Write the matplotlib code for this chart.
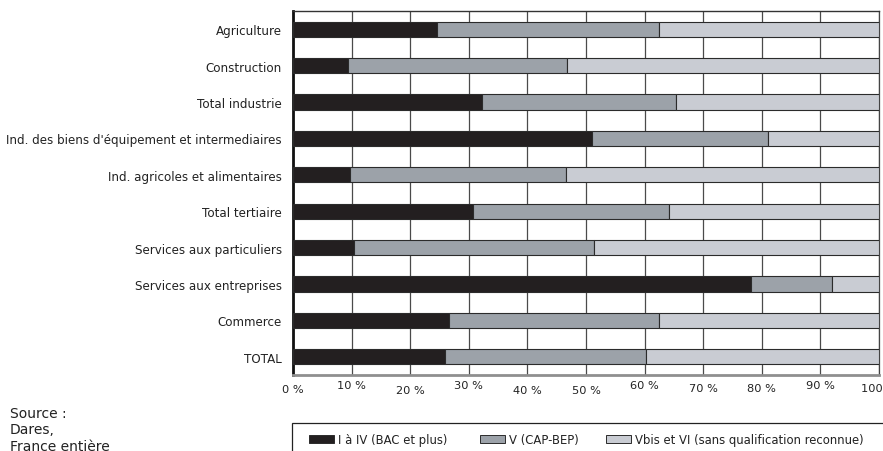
import matplotlib.pyplot as plt
from matplotlib.patches import Rectangle

categories = [
    'Agriculture',
    'Construction',
    'Total industrie',
    "Ind. des biens d'équipement et intermediaires",
    'Ind. agricoles et alimentaires',
    'Total tertiaire',
    'Services aux particuliers',
    'Services aux entreprises',
    'Commerce',
    'TOTAL',
]
# shares in %
bac_plus = [24.5, 9.4, 32.2, 51.0, 9.7, 30.7, 10.4, 78.2, 26.7, 25.9]
cap_bep = [37.9, 37.3, 33.1, 30.0, 36.9, 33.5, 41.0, 13.7, 35.7, 34.3]
sans_qualif = [100 - a - b for a, b in zip(bac_plus, cap_bep)]

series_names = ['I à IV (BAC et plus)', 'V (CAP-BEP)',
                'Vbis et VI (sans qualification reconnue)']
colors = ['#231f20', '#9ca2a9', '#c9ccd3']

xticks = list(range(0, 101, 10))
xtick_labels = [f'{t} %' for t in xticks]
# the labels in the scan sit at uneven heights (pixels below the axis)
xtick_drop = [9, 5, 10, 5, 10, 10, 5, 8, 8, 5, 8]

source_lines = ['Source :', 'Dares,', 'France entière']

fig = plt.figure(figsize=(8.83, 4.52), dpi=100)
ax = fig.add_axes([293 / 883, 1 - 376 / 452, 586 / 883, 364 / 452])

ypos = list(range(len(categories)))
left = [0] * len(categories)
for vals, col, name in zip([bac_plus, cap_bep, sans_qualif], colors, series_names):
    ax.barh(ypos, vals, left=left, height=0.42, color=col,
            edgecolor='#2b2b2b', linewidth=0.8, label=name, zorder=3)
    left = [l + v for l, v in zip(left, vals)]

ax.set_xlim(0, 100)
ax.set_ylim(len(categories) - 0.5, -0.5)
ax.set_yticks(ypos)
ax.set_yticklabels(categories, fontsize=8.55, color='#222222')
ax.tick_params(axis='y', length=0, pad=8)
ax.set_xticks(xticks)
ax.set_xticklabels([])
ax.tick_params(axis='x', length=0)
ax.grid(axis='x', color='#4a4a4a', linewidth=0.9, zorder=0)

for t, lab, d in zip(xticks, xtick_labels, xtick_drop):
    ax.annotate(lab, xy=(t, 0), xycoords=('data', 'axes fraction'),
                xytext=(0, -d), textcoords='offset pixels',
                ha='center', va='top', fontsize=8.2,
                color='#222222', annotation_clip=False)

ax.spines['left'].set_linewidth(2.0)
ax.spines['left'].set_color('#111111')
ax.spines['top'].set_linewidth(1.0)
ax.spines['top'].set_color('#333333')
ax.spines['right'].set_linewidth(0.9)
ax.spines['right'].set_color('#444444')
ax.spines['bottom'].set_linewidth(2.0)
ax.spines['bottom'].set_color('#8f8f8f')

# source note
for i, line in enumerate(source_lines):
    fig.text(10 / 883, 1 - (414 + i * 16.5) / 452, line, fontsize=10,
             va='center', ha='left', color='#222222')

# legend box, drawn by hand so it runs off the bottom edge like the scan
fig.add_artist(Rectangle((292 / 883, -0.05), 620 / 883, 0.05 + 1 - 424 / 452,
                         transform=fig.transFigure, facecolor='white',
                         edgecolor='#222222', linewidth=0.9))
leg_x = [309, 480, 606]
for x0, col, name in zip(leg_x, colors, series_names):
    fig.add_artist(Rectangle((x0 / 883, 1 - 444 / 452), 25 / 883, 8 / 452,
                             transform=fig.transFigure, facecolor=col,
                             edgecolor='#2b2b2b', linewidth=0.7))
    fig.text((x0 + 29) / 883, 1 - 441 / 452, name, fontsize=8.4,
             va='center', ha='left', color='#222222')

fig.savefig('out.png', dpi=100)
